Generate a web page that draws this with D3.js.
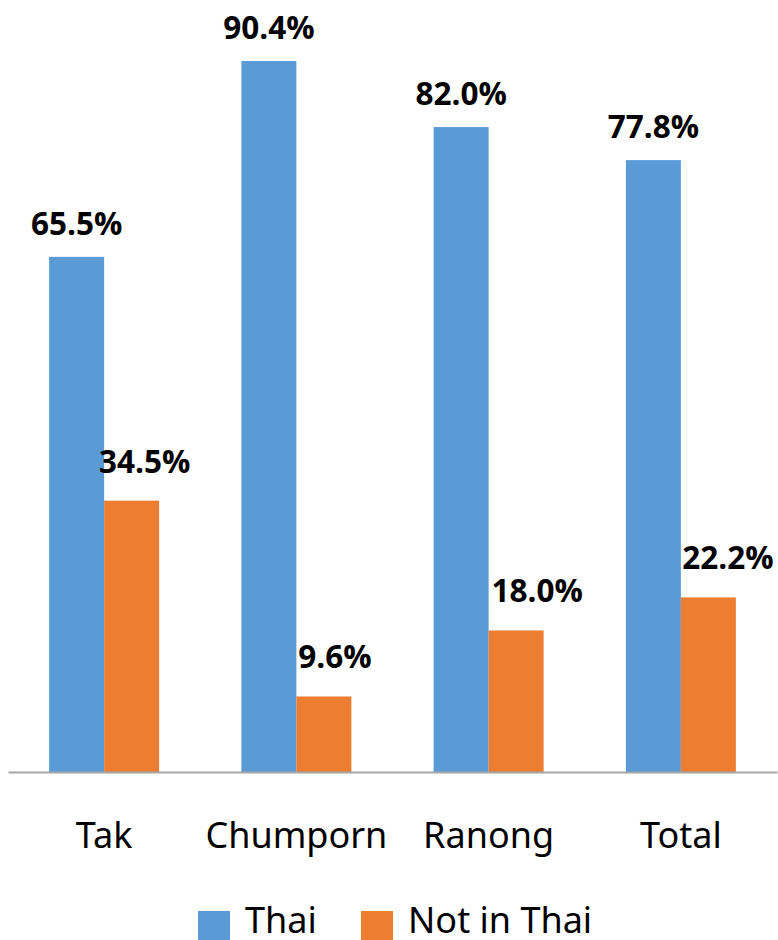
<!DOCTYPE html>
<html><head><meta charset="utf-8">
<script src="https://cdn.jsdelivr.net/npm/d3@7"></script>
<style>body{margin:0;background:#fff}svg{display:block}</style>
</head><body>
<script>
const categories = ["Tak", "Chumporn", "Ranong", "Total"];
const seriesNames = ["Thai", "Not in Thai"];
const thai = [65.5, 90.4, 82.0, 77.8];
const notThai = [34.5, 9.6, 18.0, 22.2];
const colors = ["#5B9BD5", "#ED7D31"];

// label placement tweaks (layout only)
const labelDx = [[0, 0, 0, 0], [13, 11, 21, 19.5]];
const labelGap = [22, 28];

const W = 778, H = 940;
const svg = d3.select("body").append("svg").attr("width", W).attr("height", H);

const x0 = d3.scaleBand().domain(categories).range([8, 777]).paddingInner(0).paddingOuter(0);
const groupW = 110;
const x1 = d3.scaleBand().domain(seriesNames).range([0, groupW]).padding(0);
const y = d3.scaleLinear().domain([0, 100]).range([772, 772 - 786.5]);

const data = categories.map((c, i) => ({cat: c, i, vals: [thai[i], notThai[i]]}));

const g = svg.selectAll("g.grp").data(data).enter().append("g")
  .attr("transform", d => `translate(${x0(d.cat) + (x0.bandwidth() - groupW) / 2},0)`);

g.selectAll("rect").data(d => d.vals.map((v, k) => ({v, k}))).enter().append("rect")
  .attr("x", d => x1(seriesNames[d.k]))
  .attr("y", d => y(d.v))
  .attr("width", x1.bandwidth())
  .attr("height", d => y(0) - y(d.v))
  .attr("fill", d => colors[d.k]);

g.selectAll("text.lbl").data(d => d.vals.map((v, k) => ({v, k, i: d.i}))).enter().append("text")
  .attr("class", "lbl")
  .attr("x", d => x1(seriesNames[d.k]) + x1.bandwidth() / 2 + labelDx[d.k][d.i])
  .attr("y", d => y(d.v) - labelGap[d.k])
  .attr("text-anchor", "middle")
  .attr("font-family", "Open Sans, sans-serif")
  .attr("font-weight", "bold")
  .attr("font-size", 31.5)
  .attr("fill", "#000")
  .text(d => d.v.toFixed(1) + "%");

// axis line
const axis = svg.append("g").attr("transform", `translate(0,${y(0)})`)
  .call(d3.axisBottom(x0).tickSize(0).tickPadding(0));
axis.select(".domain").attr("stroke", "#A6A6A6").attr("stroke-width", 2);
axis.selectAll(".tick text").remove();

svg.selectAll("text.cat").data(categories).enter().append("text")
  .attr("class", "cat")
  .attr("x", d => x0(d) + x0.bandwidth() / 2)
  .attr("y", 848)
  .attr("text-anchor", "middle")
  .attr("font-family", "Noto Sans, sans-serif")
  .attr("font-size", 36)
  .attr("fill", "#000")
  .text(d => d);

// legend
const legendX = [198, 361];
const lg = svg.selectAll("g.leg").data(seriesNames).enter().append("g")
  .attr("transform", (d, i) => `translate(${legendX[i]},911)`);
lg.append("rect").attr("width", 32).attr("height", 32).attr("fill", (d, i) => colors[i]);
lg.append("text").attr("x", 47).attr("y", 22)
  .attr("font-family", "Noto Sans, sans-serif")
  .attr("font-size", 36).attr("fill", "#000").text(d => d);
</script>
</body></html>
